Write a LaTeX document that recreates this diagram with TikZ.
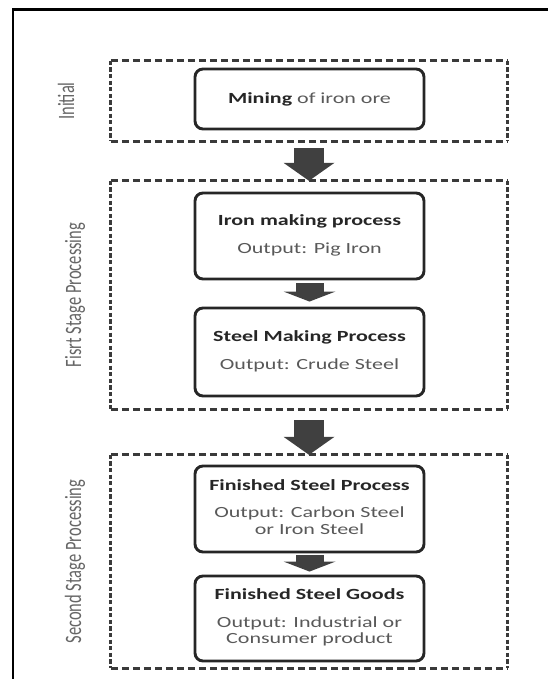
\documentclass[tikz,border=0pt]{standalone}
\usepackage{fontspec}
\setmainfont{Carlito}
\usetikzlibrary{arrows.meta,calc}

\definecolor{dashcol}{HTML}{3A3A3A}
\definecolor{boxcol}{HTML}{262626}
\definecolor{arrowcol}{HTML}{404040}
\definecolor{titlecol}{HTML}{262626}
\definecolor{subcol}{HTML}{595959}
\definecolor{labelcol}{HTML}{666666}

% wide lettering used throughout the chart
\newcommand{\boxfont}{\fontsize{15.5bp}{16.7bp}\selectfont}
\newcommand{\labelfont}{\fontsize{16.5bp}{18bp}\selectfont}
\newcommand{\widetext}[1]{\scalebox{1.42}[1]{#1}}
\newcommand{\tallside}[1]{\scalebox{1}[1.42]{#1}}
\newcommand{\stepcontent}[2]{\widetext{\color{subcol}\begin{tabular}{@{}c@{}}{\color{titlecol}\textbf{#1}}\\[10.8bp]#2\end{tabular}}}

% dashed frame round a stage, drawn edge by edge
\newcommand{\dashframe}[1]{%
  \draw[hdash] (#1.north west) -- (#1.north east);
  \draw[hdash] (#1.south west) -- (#1.south east);
  \draw[vdash] (#1.north west) -- (#1.south west);
  \draw[vdash] (#1.north east) -- (#1.south east);}

\tikzset{
  stagebox/.style={rectangle, minimum width=396bp, inner sep=0pt},
  hdash/.style={draw=dashcol, line width=2.9bp, dash pattern=on 7bp off 4bp},
  vdash/.style={draw=dashcol, line width=3.3bp, dash pattern=on 4.2bp off 2.4bp},
  stepbox/.style={rectangle, rounded corners=8bp, draw=boxcol, line width=2.9bp,
    minimum width=229bp, inner sep=0pt, fill=white, text=titlecol, font=\boxfont},
  bigflow/.style={draw=arrowcol, line width=30bp, line cap=butt,
    -{Triangle[width=51bp,length=18bp,line width=0pt]}},
  smallflow/.style={draw=arrowcol, line width=28bp, line cap=butt,
    -{Triangle[width=52bp,length=10bp,line width=0pt]}},
  sidelabel/.style={text=labelcol, font=\labelfont, rotate=90, anchor=base, inner sep=0pt},
}

\begin{document}
\begin{tikzpicture}[x=1bp,y=-1bp]
\useasboundingbox (0,0) rectangle (548,679);
\clip (0,0) rectangle (548,679);

% page frame
\draw[line width=2.2bp, black] (12.6,700) -- (12.6,9.5) -- (570,9.5);

% stage containers
\node[stagebox, minimum height=80bp]  (init)   at (309,101)   {};
\node[stagebox, minimum height=228bp] (stage1) at (309,295)   {};
\node[stagebox, minimum height=213bp] (stage2) at (309,561.5) {};
\dashframe{init}
\dashframe{stage1}
\dashframe{stage2}

% stage names
\node[sidelabel] (lblinit) at (74,101)   {\tallside{Initial}};
\node[sidelabel] (lblone)  at (81,295)   {\tallside{Fisrt Stage Processing}};
\node[sidelabel] (lbltwo)  at (81,561.5) {\tallside{Second Stage Processing}};

% process steps
\node[stepbox, minimum height=60bp] (mining) at (309.5,99)
  {\widetext{\textbf{Mining} {\color{subcol}of iron ore}}};
\node[stepbox, minimum height=86bp] (iron) at (309.5,236)
  {\stepcontent{Iron making process}{Output: Pig Iron}};
\node[stepbox, minimum height=88bp] (steelmk) at (309.5,352)
  {\stepcontent{Steel Making Process}{Output: Crude Steel}};
\node[stepbox, minimum height=86bp] (fsp) at (309.5,509)
  {\stepcontent{Finished Steel Process}{Output: Carbon Steel\\or Iron Steel}};
\node[stepbox, minimum height=85bp] (fsg) at (309.5,618.5)
  {\stepcontent{Finished Steel Goods}{Output: Industrial or\\Consumer product}};

% flow arrows
\draw[bigflow]   ($(init.south)+(0,7)$)    -- (stage1.north);
\draw[smallflow] ($(iron.south)+(0,3)$)    -- ($(steelmk.north)+(0,-5)$);
\draw[bigflow]   ($(stage1.south)+(0,11)$) -- (stage2.north);
\draw[smallflow] ($(fsp.south)+(0,2)$)     -- ($(fsg.north)+(0,-3)$);
\end{tikzpicture}
\end{document}
